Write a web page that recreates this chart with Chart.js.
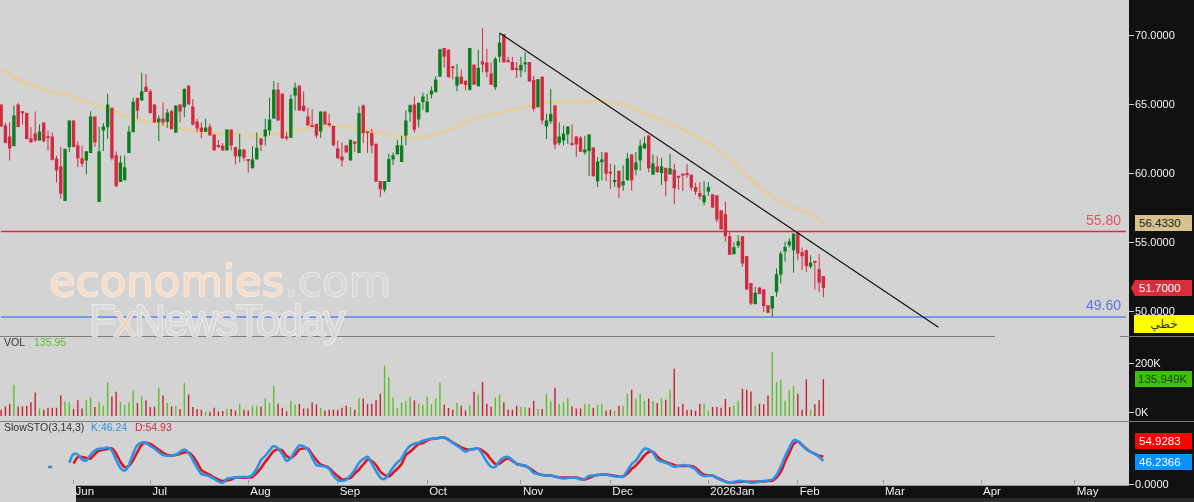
<!DOCTYPE html>
<html><head><meta charset="utf-8">
<script src="https://cdn.jsdelivr.net/npm/chart.js@4"></script>
<style>
html,body{margin:0;padding:0;width:1194px;height:502px;overflow:hidden;background:#111;font-family:"Liberation Sans",Arial,sans-serif}
#plotbg{position:absolute;left:0;top:0;width:1129px;height:485px;background:#d3d3d3}
#leftcover{position:absolute;left:0;top:485px;width:76px;height:17px;background:#d3d3d3;z-index:5}
#strip{position:absolute;left:76px;top:498px;width:1118px;height:4px;background:#2b2b2b;z-index:4}
canvas{position:absolute;left:-1px}
.sep{position:absolute;height:1px;background:#7d7d7d;z-index:3}
.badge{position:absolute;z-index:6;font-size:11.5px;line-height:16px;height:16px;text-align:left;padding-left:4px;box-sizing:border-box}
.pane{position:absolute;z-index:6;font-size:10.5px;line-height:12px;white-space:pre}
.lvl{position:absolute;z-index:3;font-size:14px;line-height:16px;right:73px}
.wm{position:absolute;z-index:3;white-space:pre;paint-order:stroke fill}
</style></head><body>
<div id="plotbg"></div>
<canvas id="cPrice" width="1195" height="337" style="top:0"></canvas>
<canvas id="cVol" width="1195" height="84" style="top:337px"></canvas>
<canvas id="cSto" width="1195" height="81" style="top:421px"></canvas>
<div id="leftcover"></div><div id="strip"></div>
<div class="sep" style="left:0;top:336px;width:995px"></div>
<div class="sep" style="left:1120px;top:336px;width:74px"></div>
<div class="sep" style="left:0;top:421px;width:1194px"></div>
<div class="sep" style="left:76px;top:485px;width:1053px;background:#999;z-index:6"></div>
<div class="wm" style="left:49px;top:253px;font-family:'DejaVu Sans',sans-serif;font-size:43.5px;line-height:56px;color:#f8dcc6;-webkit-text-stroke:1.5px #f3f0ec">economies<span style="color:#d8d8d8;-webkit-text-stroke:1.2px #f0f0f0">.com</span></div>
<div class="wm" style="left:89px;top:295px;font-size:44px;line-height:52px;letter-spacing:-2px;color:#d9d9d9;-webkit-text-stroke:1.5px #f0f0f0">F<span style="color:#e6d4c6">x</span>NewsToday</div>
<div class="lvl" style="top:212px;color:#e05566">55.80</div>
<div class="lvl" style="top:297px;color:#5b78dc">49.60</div>
<div class="pane" style="left:4px;top:336px;color:#333">VOL</div>
<div class="pane" style="left:34px;top:336px;color:#5cc02c">135.95</div>
<div class="pane" style="left:4px;top:421px;color:#333">SlowSTO(3,14,3)</div>
<div class="pane" style="left:91px;top:421px;color:#2a93e8">K:46.24</div>
<div class="pane" style="left:135px;top:421px;color:#d8283c">D:54.93</div>
<div class="badge" style="left:1135px;top:215px;width:57px;background:#d6c28c;color:#222">56.4330</div>
<div class="badge" style="left:1131px;top:280px;width:61px;padding-left:8px;background:#d92c3c;color:#fff;clip-path:polygon(4px 0,100% 0,100% 100%,4px 100%,0 50%)">51.7000</div>
<div class="badge" style="left:1134px;top:315px;width:60px;height:18px;line-height:18px;background:#ffff00;color:#333;text-align:center;padding:0;font-family:'Noto Sans','DejaVu Sans',sans-serif;font-size:12px" dir="rtl">خطي</div>
<div class="badge" style="left:1135px;top:371px;width:57px;padding-left:3px;background:#3fc10a;color:#1a3a10">135.949K</div>
<div class="badge" style="left:1135px;top:433px;width:57px;background:#ff0000;color:#fff">54.9283</div>
<div class="badge" style="left:1135px;top:454px;width:57px;background:#0a90ff;color:#fff">46.2366</div>
<script>
const opens=[65.01,63.49,62.69,61.99,65.01,64.50,64.40,62.55,62.91,62.40,63.70,62.60,62.69,61.10,60.52,58.01,61.92,63.85,62.04,61.10,60.95,61.49,64.14,57.94,63.13,63.37,64.77,61.32,59.39,59.51,61.49,63.00,65.49,65.30,66.31,65.97,65.01,63.73,63.99,63.75,64.53,62.98,65.01,64.81,66.38,64.86,63.78,63.34,63.03,63.41,62.83,61.97,62.02,61.68,63.20,61.92,61.24,61.75,61.00,60.38,61.03,62.55,62.69,63.13,63.99,66.09,65.80,62.57,62.60,65.66,66.38,
64.94,64.14,63.49,63.61,63.05,64.50,63.66,63.46,61.82,61.24,62.04,60.95,62.33,61.49,64.94,63.03,62.93,62.16,59.46,58.83,59.39,61.03,61.39,60.84,62.76,64.45,65.01,63.92,65.18,64.45,65.73,65.90,67.03,69.11,68.99,67.69,66.38,67.03,66.74,66.07,67.90,66.33,68.14,68.05,67.27,66.26,68.48,70.12,68.12,68.09,67.61,67.47,67.92,68.09,66.79,64.81,67.03,63.41,63.78,64.94,62.21,
62.40,62.84,62.11,62.69,62.60,61.53,61.63,61.90,59.44,60.83,61.53,60.09,59.39,60.21,59.15,59.51,61.39,60.28,60.96,61.82,62.76,59.92,60.52,60.04,60.42,59.94,60.28,59.80,59.92,60.01,59.92,59.03,58.59,57.92,58.69,58.50,58.42,57.34,57.05,55.46,54.15,54.78,55.46,54.01,52.06,50.53,51.74,51.60,50.46,50.22,51.40,52.68,54.35,54.80,54.44,55.72,54.30,54.44,53.24,53.57,53.07,52.56];
const highs=[65.01,63.66,63.73,64.94,65.10,64.50,64.40,63.37,64.50,63.56,63.70,63.13,62.98,61.29,61.92,61.80,63.85,63.85,62.35,62.02,61.61,64.52,64.14,63.37,63.66,65.78,64.77,61.61,61.32,61.32,63.46,65.49,65.49,67.32,67.23,66.14,65.01,64.21,65.15,64.69,64.62,64.94,65.01,66.19,66.38,65.39,63.97,63.70,63.97,63.61,62.83,62.45,62.21,63.20,63.20,61.92,62.88,61.75,61.00,61.97,62.98,62.55,63.97,65.49,66.72,66.60,65.80,63.00,65.73,66.60,66.38,
65.95,64.77,64.69,63.61,64.50,64.50,64.33,63.46,62.40,62.26,62.04,62.45,62.33,64.86,65.01,63.03,63.25,62.16,59.46,59.46,61.44,61.53,62.45,62.74,64.57,65.01,65.59,65.13,65.88,65.78,66.31,67.08,69.06,69.11,68.99,67.69,67.95,67.54,66.74,69.11,67.90,68.96,70.55,69.06,68.07,68.48,70.17,70.12,68.48,68.48,68.09,68.48,68.79,68.09,67.10,66.84,67.03,64.33,66.14,64.94,63.70,
63.46,63.42,63.56,62.69,62.74,62.74,62.84,61.90,61.20,61.58,61.53,60.72,60.64,60.21,60.59,61.51,61.39,61.56,62.45,62.69,62.76,61.39,61.25,61.15,60.42,61.44,60.72,59.80,59.92,60.67,59.92,59.32,59.36,59.44,59.39,58.50,58.42,57.34,57.96,55.75,55.02,55.53,55.46,54.01,52.06,51.79,51.74,51.60,50.46,51.12,53.12,54.39,55.05,55.31,55.65,55.72,54.64,54.49,54.08,53.57,54.15,52.56];
const lows=[63.37,62.21,60.95,61.99,63.37,63.56,62.50,62.26,62.28,62.40,62.26,61.68,60.95,59.36,58.18,58.01,61.56,61.92,60.47,60.47,59.94,61.49,61.92,57.94,61.63,62.52,60.95,59.07,59.39,59.51,61.49,63.00,63.97,65.30,65.92,64.38,63.70,62.35,63.49,63.32,63.22,62.93,63.73,64.09,65.01,63.49,63.00,62.57,63.03,62.76,61.68,61.87,61.68,61.68,61.68,60.66,60.81,60.91,60.06,60.38,61.03,61.63,62.04,62.76,63.99,63.85,62.55,62.40,62.60,64.57,64.57,
64.52,63.49,63.37,62.57,62.60,63.56,63.41,61.97,61.10,60.52,61.53,60.95,61.56,61.49,62.21,61.49,61.49,59.39,58.30,58.64,59.39,60.62,61.39,60.84,62.06,63.78,62.98,63.34,64.62,64.43,65.44,65.90,67.03,67.71,66.98,66.84,65.97,66.50,66.02,66.02,66.45,66.33,67.35,66.98,66.43,66.07,68.07,68.07,68.07,67.47,66.94,66.98,67.35,66.67,64.52,64.81,63.56,62.50,63.61,61.77,62.06,
62.06,62.16,62.06,61.20,61.58,61.39,59.85,59.80,59.03,59.51,59.46,58.88,59.03,58.21,58.74,59.51,58.78,59.87,60.23,61.82,60.09,59.92,60.09,59.17,58.35,59.94,57.77,58.83,58.74,59.70,58.78,58.45,58.11,57.68,58.40,57.53,56.47,55.96,55.07,54.11,54.15,54.59,53.24,51.55,50.46,50.53,51.26,49.98,49.91,49.62,51.07,52.03,53.62,54.64,52.80,53.72,53.00,52.85,53.09,51.60,51.40,51.04];
const closes=[63.41,62.21,61.82,64.21,63.37,64.38,62.50,62.26,62.40,63.05,62.35,62.57,61.00,60.23,58.54,61.80,63.85,61.92,61.10,60.71,61.61,64.14,62.26,61.61,63.41,65.01,61.10,59.07,60.81,60.45,63.05,65.22,64.57,65.97,65.92,64.38,63.70,63.99,63.70,64.43,63.22,64.94,64.50,66.14,65.01,63.56,63.27,63.03,63.34,62.76,61.68,61.92,61.68,63.20,62.04,61.24,61.75,61.15,60.91,61.03,61.87,62.09,63.20,63.92,66.09,63.85,62.55,62.55,65.42,66.24,64.57,
64.52,63.49,63.37,62.76,64.50,63.56,63.49,62.06,61.10,60.95,61.53,62.45,62.16,64.38,62.93,62.93,62.04,59.41,58.86,59.46,61.05,61.32,62.06,62.04,63.85,64.96,63.17,65.13,65.59,65.22,66.02,66.82,69.01,68.48,66.98,67.64,67.03,66.50,66.43,69.11,66.45,67.66,67.90,67.35,66.43,68.33,69.49,68.07,68.07,67.51,67.51,67.88,68.07,66.67,64.69,66.84,63.85,63.85,64.33,62.11,62.69,
62.91,63.42,62.06,62.11,61.58,61.75,62.84,59.80,60.88,61.03,59.99,59.99,59.48,58.98,59.44,61.10,59.51,60.81,62.02,62.19,60.38,60.74,60.09,60.52,59.44,60.38,58.93,59.70,59.85,59.89,58.98,58.69,58.33,58.42,59.03,57.53,56.66,55.96,55.46,54.11,54.66,55.09,53.48,51.60,50.58,51.36,51.26,50.39,49.91,51.12,52.71,54.20,54.68,55.09,55.65,54.20,54.01,53.29,53.55,53.53,52.08,51.70];
const maIndex=[0,5,10,15,20,25,30,35,40,45,50,55,60,65,70,75,80,85,90,95,100,105,110,115,120,125,130,135,140,145,150,155,160,165,170,175,180,185,190,193];
const maValues=[67.56,66.67,66.07,65.75,65.2,64.67,64.07,63.73,63.37,63.1,62.93,62.84,62.72,62.96,63.2,63.37,63.39,63.2,62.88,62.6,62.71,63.18,63.85,64.26,64.62,64.93,65.2,65.2,65.27,65.08,64.5,63.85,63.17,62.35,61.32,59.87,58.5,57.7,57.02,56.43];
const volumes=[12,25.5,36,113,25.5,25.5,28,42,82,17,12,20,20,20,70,46,43,15,50,17,52,61,23,42,28,123,66,85,44,31,42,90,39,66,50,23,25,101,70,39,25,28,15,120,74,23,15,12,4,4,20,5,7,16,15,9,34,12,9,28,28,25,58,39,110,36,20,5,48,34,36,17,17,42,34,20,9,12,12,12,20,28,23,12,59,58,36,36,50,77,190,144,61,20,42,47,65,50,36,
32,65,34,58,121,32,19,12,40,28,9,30,85,74,124,36,24,61,74,42,12,12,28,23,23,20,48,15,15,77,46,101,36,43,59,25,17,17,36,34,20,31,36,9,12,7,28,28,77,93,58,77,47,58,47,39,58,52,93,178,24,36,11,12,8,36,36,8,23,23,20,56,23,28,48,97,93,86,28,36,34,70,246,125,133,48,92,109,77,12,135,12,34,50,135.95];
const stoKHead=[null,null,null,null,null,null,null,null,null,null,null,34,34,null,null,null];
const stoK=[42.5,60,59,49,47,58.5,67,70.5,71,73,67,48,32,27,38,61,78,83,82,76,71,64,58,56.5,57,59,64,69,62.5,48.5,32.5,20,18,15,10.5,5,2.5,10,12,13,14,14,14,18.5,30.5,48,56.5,67,76,71,60,46.5,52,66,77,75,69,53,38,36.5,35,30.5,16.5,8,6,8.5,17,28,42.5,50,54.5,41,26,13,10,20,33,43,51,66.5,76.5,80.5,82.5,
86.5,89,90.5,91,92.5,92.5,88,82,76.5,70.5,64.5,69,70,70.5,59,44.5,34.5,34.5,46,53,54,48,40,38.5,37,31,22,20,18,17,17,15,12.5,11,12,13,12,9,10,16,17,18.5,19,19,17,15,14.5,15,26.5,40,47,60,70.5,69,63,49,45,42.5,39,34.5,36,38,37,34,29,20,16,16.5,16.5,12,8,5,2.5,4.5,6,6,4.5,2.5,3,4.5,6,7,8.5,18,34.5,54.5,72.5,87,86,78.5,69,64.5,60.5,54,46.24];
const stoD=[41,54,54,52,51,60,67,68.5,70,71,60.5,44.5,34,36.5,48,64,78.5,82.5,80,75,68.5,62.5,58,57,58,60.5,63,63,56,43,28,22.5,18,13,8.5,6,7,9,13,13,12.5,13,14.5,22,32,44.5,55,66,69,67,56,52,58.5,69,71,71,59,48,39,36,32,23,16,9,10,12,21,29,39,48.5,46,38,25,18,15,22.5,30.5,40,58,64.5,72.5,80,
82,87,90,91,92.5,93,89,83,78.5,73,70,68.5,70,71,66.5,60,49,40,41,47,51,46,40.5,38,36,32,26,20.5,18,17,17,15,13,13,13,13,13,10.5,9,12,16,18,18.5,19,18,16.5,15,15,21,30,37,46.5,57,64,64,55,48,44,41,38,36,36,36,36,32.5,24.5,18.5,17,17,12.5,9,5,2.5,3,4,4.5,4.5,4.5,4.5,5,5,6,6.5,13,24,44.5,62.5,80,84.5,78,70.5,64.5,60,56.5,54.93];
const priceTicks=[50,55,60,65,70];
const volTicks=[0,200];
const stoTicks=[0];
const months=["Jun","Jul","Aug","Sep","Oct","Nov","Dec","2026Jan","Feb","Mar","Apr","May"];
const monthIndex=[17,35,58,79,100,122,143,166,187,207,230,252];
const resistanceLevel=55.8, supportLevel=49.6;
const trendIndex=[117,220], trendValues=[70.2,48.85];
const slotCount=265;

const labels=Array.from({length:slotCount},(_,i)=>String(i));
const GREEN='#0b7d1f',RED='#d42a40',VGREEN='#5cbf2a',VRED='#c4222f';
const up=i=>closes[i]>=opens[i];
const pts=(xs,ys)=>xs.map((x,k)=>({x:String(x),y:ys[k]}));
const hideX={display:false,offset:true,grid:{display:false}};
function noPad(s){s.paddingTop=s.paddingBottom=s.paddingLeft=s.paddingRight=0;}
function yAxis(min,max,vals,fmt){return{position:'right',min,max,
  afterBuildTicks:s=>{s.ticks=vals.map(v=>({value:v}))},
  afterFit:s=>{s.width=66;noPad(s);},
  border:{display:false},
  grid:{drawOnChartArea:false,tickLength:6,color:'#cfcfcf',tickWidth:1},
  ticks:{color:'#f4f4f4',padding:1,autoSkip:false,labelOffset:0.5,font:{family:'"Liberation Sans",Arial,sans-serif',size:11},callback:fmt}};}
const base={responsive:false,animation:false,events:[],layout:{padding:0},plugins:{legend:{display:false},tooltip:{enabled:false}}};
Chart.defaults.font.family='"Liberation Sans",Arial,sans-serif';

new Chart(document.getElementById('cPrice'),{type:'bar',data:{labels,datasets:[
 {type:'line',order:5,data:pts(maIndex,maValues),borderColor:'#e2cfa0',borderWidth:3,pointRadius:0,tension:.4,cubicInterpolationMode:'monotone'},
 {type:'line',order:4,data:pts([0,264],[resistanceLevel,resistanceLevel]),borderColor:'#ee2238',borderWidth:1.4,pointRadius:0},
 {type:'line',order:4,data:pts([0,264],[supportLevel,supportLevel]),borderColor:'#7b96e2',borderWidth:2,pointRadius:0},
 {order:3,grouped:false,barThickness:1,inflateAmount:0,data:highs.map((h,i)=>[lows[i],h]),backgroundColor:opens.map((_,i)=>up(i)?GREEN:RED)},
 {order:2,grouped:false,barThickness:3.4,inflateAmount:0,minBarLength:2,data:opens.map((o,i)=>[Math.min(o,closes[i]),Math.max(o,closes[i])]),backgroundColor:opens.map((_,i)=>up(i)?GREEN:RED)},
 {type:'line',order:1,data:pts(trendIndex,trendValues),borderColor:'#111',borderWidth:1.2,pointRadius:0}
]},options:{...base,scales:{x:hideX,y:yAxis(48.15,72.587,priceTicks,v=>v.toFixed(4))}}});

new Chart(document.getElementById('cVol'),{type:'bar',data:{labels,datasets:[
 {grouped:false,barThickness:1.4,inflateAmount:0,base:-13,data:volumes,backgroundColor:volumes.map((_,i)=>up(i)?VGREEN:VRED)}
]},options:{...base,scales:{x:hideX,y:yAxis(-33.6,306.5,volTicks,v=>v+'K')}}});

new Chart(document.getElementById('cSto'),{type:'line',data:{labels,datasets:[
 {data:stoKHead.concat(stoK),borderColor:'#2a93e8',borderWidth:2.6,pointRadius:0,tension:.3},
 {data:Array(17).fill(null).concat(stoD),borderColor:'#e0141e',borderWidth:2.6,pointRadius:0,tension:.3}
]},options:{...base,scales:{
 x:{offset:true,position:'bottom',
   afterBuildTicks:s=>{s.ticks=monthIndex.map(i=>({value:i}))},
   afterFit:s=>{s.height=18;noPad(s);},
   border:{display:false},
   grid:{offset:false,drawOnChartArea:false,tickLength:-4,color:'#9a9a9a',tickWidth:1},
   ticks:{autoSkip:false,maxRotation:0,minRotation:0,align:'start',labelOffset:2,padding:5,color:'#eee',font:{size:11.5},
     callback:v=>months[monthIndex.indexOf(v)]}},
 y:yAxis(0,126,stoTicks,v=>v.toFixed(4))}}});
</script>
</body></html>
